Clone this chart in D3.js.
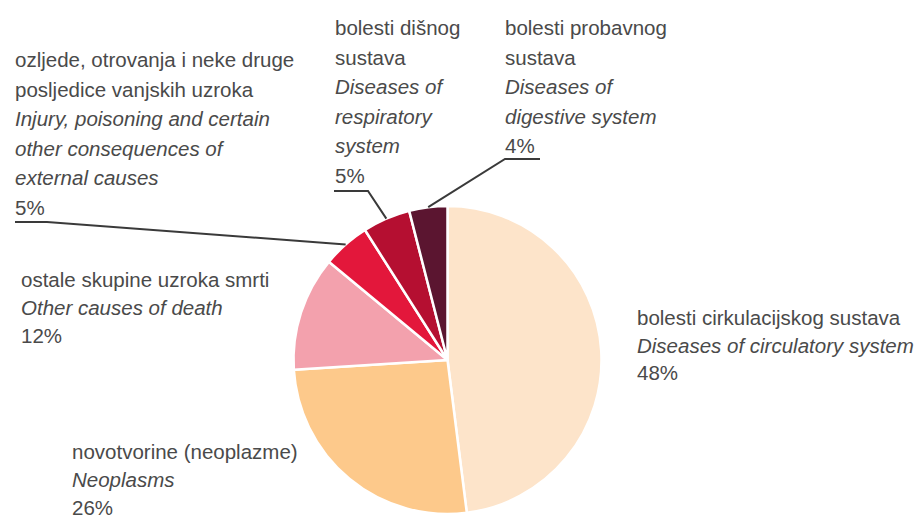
<!DOCTYPE html>
<html>
<head>
<meta charset="utf-8">
<script src="https://cdn.jsdelivr.net/npm/d3@7"></script>
<style>
  html, body { margin: 0; padding: 0; background: #fff; }
  svg { display: block; }
  text { font-family: "Liberation Sans", Arial, sans-serif; fill: #4a4a4a; }
</style>
</head>
<body>
<svg id="chart" width="919" height="518"></svg>
<script>
// ---- data ----
const categories = [
  "bolesti cirkulacijskog sustava",
  "novotvorine (neoplazme)",
  "ostale skupine uzroka smrti",
  "ozljede, otrovanja i neke druge posljedice vanjskih uzroka",
  "bolesti dišnog sustava",
  "bolesti probavnog sustava"
];
const values = [48, 26, 12, 5, 5, 4];
const colors = ["#fde4ca", "#fdc98b", "#f3a1ad", "#e3173b", "#b50f31", "#5b1530"];
// label lines: [croatian lines..., english (italic) lines..., percent]
const labelLocal = [
  ["bolesti cirkulacijskog sustava"],
  ["novotvorine (neoplazme)"],
  ["ostale skupine uzroka smrti"],
  ["ozljede, otrovanja i neke druge", "posljedice vanjskih uzroka"],
  ["bolesti dišnog", "sustava"],
  ["bolesti probavnog", "sustava"]
];
const labelEnglish = [
  ["Diseases of circulatory system"],
  ["Neoplasms"],
  ["Other causes of death"],
  ["Injury, poisoning and certain", "other consequences of", "external causes"],
  ["Diseases of", "respiratory", "system"],
  ["Diseases of", "digestive system"]
];

// ---- layout ----
const cx = 447.5, cy = 360, R = 154;
const labelPos = [
  {x: 637, y: 325, lh: 27.5},
  {x: 72, y: 459, lh: 28},
  {x: 21, y: 287, lh: 28},
  {x: 15, y: 67, lh: 29.5},
  {x: 335, y: 35, lh: 29.5},
  {x: 505, y: 35, lh: 29.5}
];
// leader lines: [start of underline, bend]
const leaders = {
  3: {x0: 15, x1: 47, y: 222},
  4: {x0: 334, x1: 368, y: 191},
  5: {x0: 540, x1: 505, y: 159}
};

const svg = d3.select("#chart");
const g = svg.append("g").attr("transform", `translate(${cx},${cy})`);

const pie = d3.pie().sort(null).value(d => d)(values);
const arc = d3.arc().innerRadius(0).outerRadius(R);

g.selectAll("path.slice")
  .data(pie)
  .join("path")
  .attr("class", "slice")
  .attr("d", arc)
  .attr("fill", (d, i) => colors[i])
  .attr("stroke", "#fff")
  .attr("stroke-width", 2.5)
  .attr("stroke-linejoin", "round");

// leader lines
pie.forEach((d, i) => {
  const L = leaders[i];
  if (!L) return;
  const a = (d.startAngle + d.endAngle) / 2;
  const px = cx + R * Math.sin(a), py = cy - R * Math.cos(a);
  svg.append("path")
    .attr("d", d3.line()([[L.x0, L.y], [L.x1, L.y], [px, py]]))
    .attr("fill", "none")
    .attr("stroke", "#3a3a3a")
    .attr("stroke-width", 2);
});

// labels
categories.forEach((c, i) => {
  const p = labelPos[i];
  const lines = [];
  labelLocal[i].forEach(t => lines.push({t, it: false}));
  labelEnglish[i].forEach(t => lines.push({t, it: true}));
  lines.push({t: values[i] + "%", it: false});
  const txt = svg.append("text")
    .attr("x", p.x).attr("y", p.y)
    .style("font-size", "20.5px");
  lines.forEach((l, k) => {
    txt.append("tspan")
      .attr("x", p.x)
      .attr("y", p.y + k * p.lh)
      .style("font-style", l.it ? "italic" : "normal")
      .text(l.t);
  });
});
</script>
</body>
</html>
